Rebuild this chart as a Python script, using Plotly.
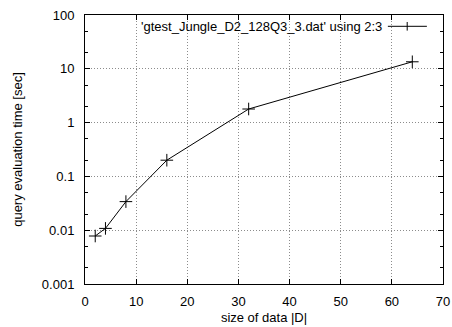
import plotly.graph_objects as go

sizes = [2, 4, 8, 16, 32, 64]
times = [0.0078, 0.0108, 0.034, 0.20, 1.79, 13.5]
series_name = "'gtest_Jungle_D2_128Q3_3.dat' using 2:3"
x_ticks = [0, 10, 20, 30, 40, 50, 60, 70]
y_ticks = [0.001, 0.01, 0.1, 1, 10, 100]
y_tick_labels = ["0.001", "0.01", "0.1", "1", "10", "100"]
y_minor = [m * d for d in [0.001, 0.01, 0.1, 1, 10] for m in (2, 5)]

FONT = "Liberation Sans, Arial, sans-serif"
FS = 13

fig = go.Figure()
fig.add_trace(go.Scatter(
    x=sizes, y=times, mode="lines+markers",
    line=dict(color="black", width=1),
    marker=dict(symbol="cross-thin-open", size=9, line=dict(color="black", width=1)),
    showlegend=False, hoverinfo="skip",
))

fig.update_layout(
    width=452, height=327,
    margin=dict(l=85, r=9, t=15, b=43),
    paper_bgcolor="white", plot_bgcolor="white",
    font=dict(family=FONT, size=FS, color="black"),
    xaxis=dict(
        range=[0, 70], tickmode="array", tickvals=x_ticks,
        ticks="inside", ticklen=5, tickcolor="black",
        showline=True, linecolor="black", linewidth=1, mirror="ticks",
        showgrid=True, gridcolor="#8c8c8c", griddash="1px,2px", gridwidth=1,
        zeroline=False, automargin=False, ticklabelstandoff=5,
        title=dict(text="size of data |D|", standoff=5, font=dict(size=FS)),
        tickfont=dict(size=FS),
    ),
    yaxis=dict(
        type="log", range=[-3, 2], tickmode="array", tickvals=y_ticks,
        ticktext=y_tick_labels,
        ticks="inside", ticklen=5, tickcolor="black",
        showline=True, linecolor="black", linewidth=1, mirror="ticks",
        showgrid=True, gridcolor="#8c8c8c", griddash="1px,2px", gridwidth=1,
        zeroline=False, automargin=False, ticklabelstandoff=7,
        minor=dict(tickmode="array", tickvals=y_minor, ticks="inside", ticklen=3,
                   tickcolor="black", showgrid=False),
        title=dict(text="query evaluation time [sec]", standoff=16, font=dict(size=FS)),
        tickfont=dict(size=FS),
    ),
)

# manual gnuplot-style key (text left of sample)
fig.add_annotation(
    x=0.834, y=0.958, xref="paper", yref="paper", xanchor="right", yanchor="middle",
    text=series_name, showarrow=False, font=dict(size=FS, family=FONT),
)
fig.add_shape(type="line", xref="paper", yref="paper",
              x0=0.846, x1=0.955, y0=0.958, y1=0.958, line=dict(color="black", width=1))
fig.add_shape(type="line", xref="paper", yref="paper",
              x0=0.90, x1=0.90, y0=0.942, y1=0.974, line=dict(color="black", width=1))

fig.write_html("out.html", config={"displayModeBar": False, "staticPlot": True},
               post_script="document.body.style.margin='0';document.body.style.overflow='hidden';")
